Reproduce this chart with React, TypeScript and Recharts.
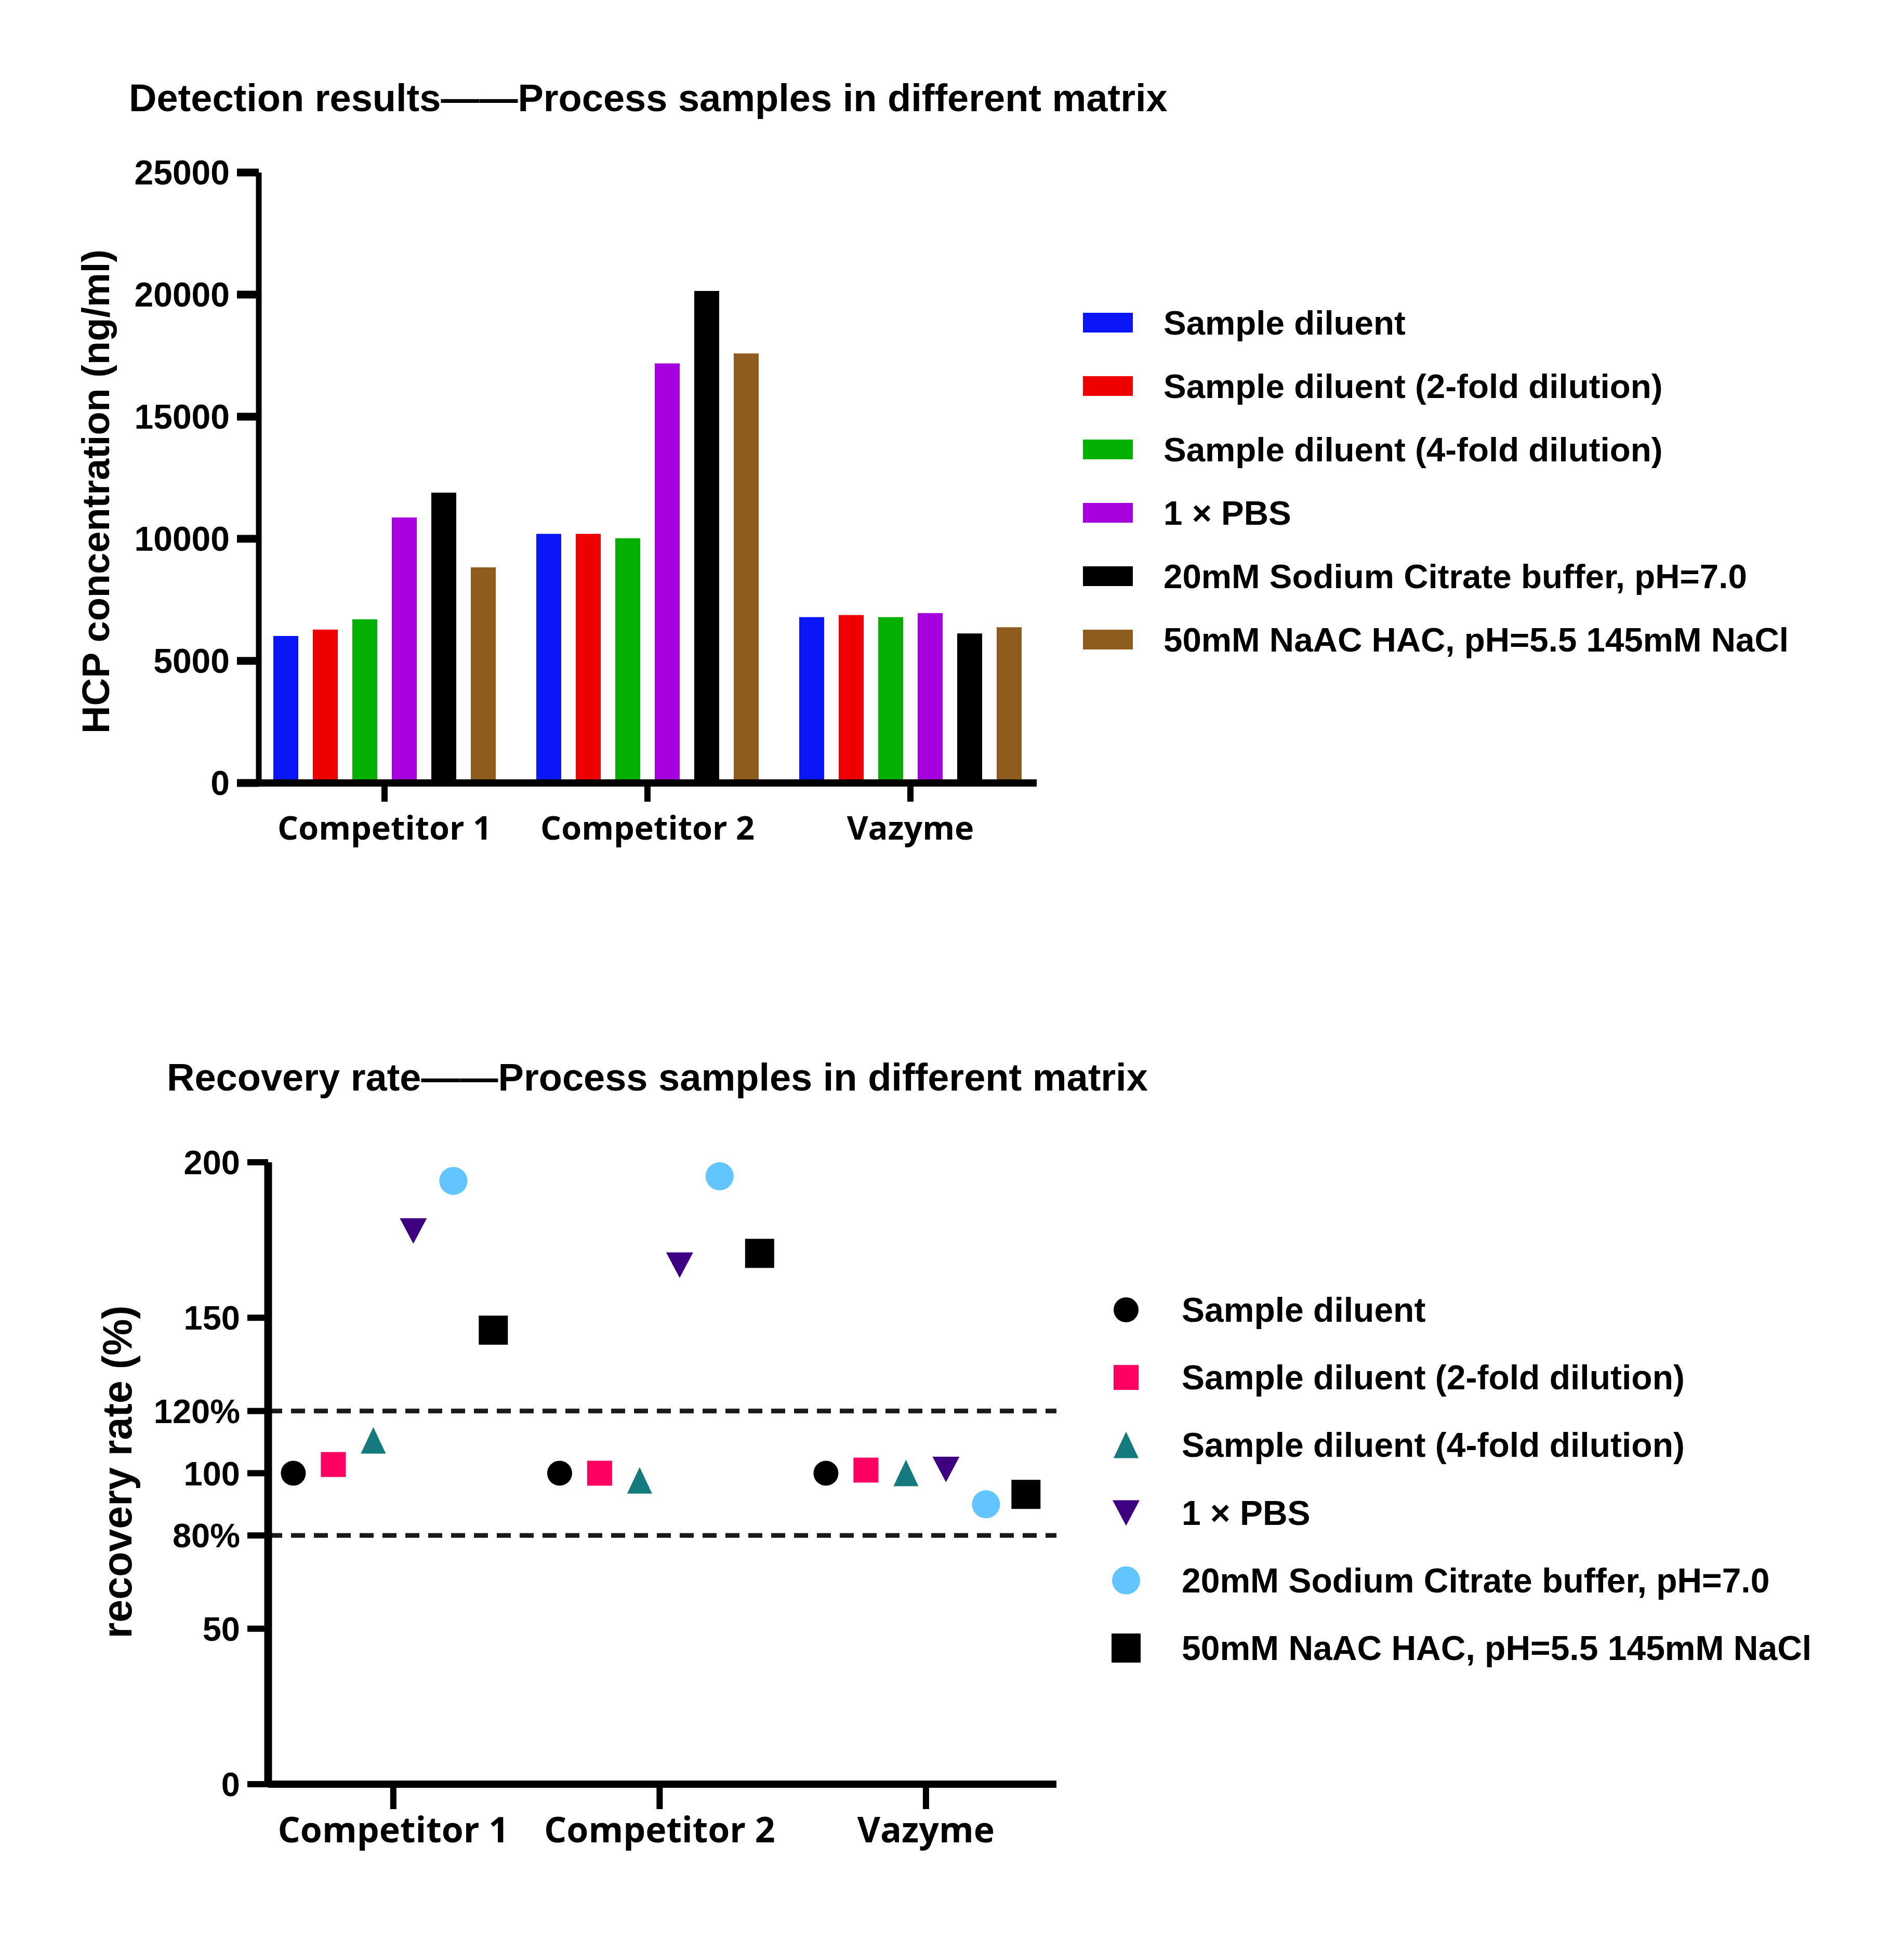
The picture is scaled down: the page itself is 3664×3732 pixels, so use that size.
import React from 'react';
import { BarChart, Bar, XAxis, YAxis, ScatterChart, Scatter, ReferenceLine } from 'recharts';

// ---------- data ----------
const categories = ['Competitor 1', 'Competitor 2', 'Vazyme'];
const seriesNames = [
  'Sample diluent',
  'Sample diluent (2-fold dilution)',
  'Sample diluent (4-fold dilution)',
  '1 × PBS',
  '20mM Sodium Citrate buffer, pH=7.0',
  '50mM NaAC HAC, pH=5.5 145mM NaCl',
];

// HCP concentration (ng/ml)
const hcpSampleDiluent = [6020, 10200, 6790];
const hcpTwoFold = [6280, 10200, 6880];
const hcpFourFold = [6700, 10020, 6790];
const hcpPbs = [10870, 17180, 6960];
const hcpCitrate = [11890, 20150, 6120];
const hcpNaac = [8830, 17590, 6380];
const hcpTicks = [0, 5000, 10000, 15000, 20000, 25000];

// recovery rate (%)
const recSampleDiluent = [100, 100, 100];
const recTwoFold = [102.8, 100, 101];
const recFourFold = [110.5, 97.6, 100];
const recPbs = [178, 167, 101.3];
const recCitrate = [194, 195.5, 90];
const recNaac = [146, 170.7, 93.2];
const recTicks = [0, 50, 80, 100, 120, 150, 200];
const recLimits = [80, 120];

const topTitle = 'Detection results——Process samples in different matrix';
const bottomTitle = 'Recovery rate——Process samples in different matrix';
const topYLabel = 'HCP concentration (ng/ml)';
const bottomYLabel = 'recovery rate (%)';

// ---------- styles ----------
const ARIAL = '"Liberation Sans", Arial, Helvetica, sans-serif';
const CAT_FONT = '"Open Sans", "Noto Sans", sans-serif';
const barColors = ['#0b16f6', '#ee0000', '#04b004', '#a700df', '#000000', '#8e5c1c'];
const markerColors = ['#000000', '#ff0062', '#147a7e', '#3d0080', '#62c5ff', '#000000'];
const markerKinds = ['circle', 'square', 'up', 'down', 'bigcircle', 'bigsquare'];

const hcpSeries = [hcpSampleDiluent, hcpTwoFold, hcpFourFold, hcpPbs, hcpCitrate, hcpNaac];
const recSeries = [recSampleDiluent, recTwoFold, recFourFold, recPbs, recCitrate, recNaac];

const barData = categories.map((c, i) => {
  const row: any = { category: c };
  hcpSeries.forEach((s, k) => {
    row['s' + k] = s[i];
  });
  return row;
});

const DODGE = 0.1502;
const scatterData = recSeries.map((s, k) =>
  s.map((v, i) => ({ x: i + (k - 2.5) * DODGE, y: v }))
);

function Marker({ kind, cx, cy, color }: { kind: string; cx: number; cy: number; color: string }) {
  switch (kind) {
    case 'circle':
      return <circle cx={cx} cy={cy} r={24} fill={color} />;
    case 'bigcircle':
      return <circle cx={cx} cy={cy} r={27} fill={color} />;
    case 'square':
      return <rect x={cx - 24} y={cy - 24} width={48} height={48} fill={color} />;
    case 'bigsquare':
      return <rect x={cx - 28} y={cy - 28} width={56} height={56} fill={color} />;
    case 'up':
      return <polygon points={`${cx - 24},${cy + 25} ${cx + 24},${cy + 25} ${cx},${cy - 26}`} fill={color} />;
    case 'down':
      return <polygon points={`${cx - 26},${cy - 24} ${cx + 26},${cy - 24} ${cx},${cy + 25}`} fill={color} />;
    default:
      return null;
  }
}

const yTickFmt = (v: number) => (v === 80 || v === 120 ? `${v}%` : `${v}`);

export default function App() {
  return (
    <div style={{ position: 'absolute', left: 0, top: 0, width: 3664, height: 3732, background: '#fff', overflow: 'hidden' }}>
      {/* Top bar chart */}
      <div style={{ position: 'absolute', left: 0, top: 0 }}>
        <BarChart
          width={2100}
          height={1700}
          data={barData}
          margin={{ top: 332, left: 198, right: 105, bottom: 43 }}
          barSize={48}
          barGap={28}
        >
          {hcpSeries.map((_, k) => (
            <Bar key={k} dataKey={'s' + k} name={seriesNames[k]} fill={barColors[k]} isAnimationActive={false} />
          ))}
          <XAxis
            dataKey="category"
            type="category"
            height={150}
            padding={{ left: -11, right: -10 }}
            axisLine={{ stroke: '#000', strokeWidth: 14 }}
            tickLine={{ stroke: '#000', strokeWidth: 12 }}
            tickSize={36}
            tickMargin={28}
            tick={{ fill: '#000', fontSize: 63, fontFamily: CAT_FONT, fontWeight: 700 }}
          />
          <YAxis
            type="number"
            width={300}
            domain={[0, 25000]}
            ticks={hcpTicks}
            interval={0}
            axisLine={{ stroke: '#000', strokeWidth: 11 }}
            tickLine={{ stroke: '#000', strokeWidth: 15 }}
            tickSize={42}
            tickMargin={14}
            tick={{ fill: '#000', fontSize: 66, fontFamily: ARIAL, fontWeight: 700 }}
          />
        </BarChart>
      </div>

      {/* Bottom scatter chart */}
      <div style={{ position: 'absolute', left: 0, top: 1800 }}>
        <ScatterChart width={2100} height={1900} margin={{ top: 437, left: 216, right: 67, bottom: 66 }}>
          <ReferenceLine y={recLimits[1]} stroke="#1a1a1a" strokeWidth={9} strokeDasharray="27 17" />
          <ReferenceLine y={recLimits[0]} stroke="#1a1a1a" strokeWidth={9} strokeDasharray="27 17" />
          {scatterData.map((d, k) => (
            <Scatter
              key={k}
              name={seriesNames[k]}
              data={d}
              fill={markerColors[k]}
              isAnimationActive={false}
              shape={(p: any) => <Marker kind={markerKinds[k]} cx={p.cx} cy={p.cy} color={markerColors[k]} />}
            />
          ))}
          <XAxis
            type="number"
            dataKey="x"
            domain={[-0.47, 2.49]}
            ticks={[0, 1, 2]}
            interval={0}
            tickFormatter={(v: number) => categories[Math.round(v)]}
            height={200}
            axisLine={{ stroke: '#000', strokeWidth: 14 }}
            tickLine={{ stroke: '#000', strokeWidth: 12 }}
            tickSize={48}
            tickMargin={16}
            tick={{ fill: '#000', fontSize: 68, fontFamily: CAT_FONT, fontWeight: 700 }}
          />
          <YAxis
            type="number"
            dataKey="y"
            width={300}
            domain={[0, 200]}
            ticks={recTicks}
            interval={0}
            tickFormatter={yTickFmt}
            axisLine={{ stroke: '#000', strokeWidth: 15 }}
            tickLine={{ stroke: '#000', strokeWidth: 12 }}
            tickSize={40}
            tickMargin={14}
            tick={{ fill: '#000', fontSize: 65, fontFamily: ARIAL, fontWeight: 700 }}
          />
        </ScatterChart>
      </div>

      {/* Overlay: titles, axis titles, legends */}
      <svg width={3664} height={3732} style={{ position: 'absolute', left: 0, top: 0, pointerEvents: 'none' }}>
        <text x={248} y={214} fontFamily={ARIAL} fontWeight={700} fontSize={74} fill="#000">{topTitle}</text>
        <text x={321} y={2099} fontFamily={ARIAL} fontWeight={700} fontSize={74} fill="#000">{bottomTitle}</text>
        <text transform="translate(210,946) rotate(-90)" textAnchor="middle" fontFamily={ARIAL} fontWeight={700} fontSize={74} fill="#000">{topYLabel}</text>
        <text transform="translate(253,2833) rotate(-90)" textAnchor="middle" fontFamily={ARIAL} fontWeight={700} fontSize={79} fill="#000">{bottomYLabel}</text>

        {seriesNames.map((name, k) => {
          const cy = 621 + k * 122;
          return (
            <g key={'tl' + k}>
              <rect x={2084} y={cy - 19} width={96} height={38} fill={barColors[k]} />
              <text x={2239} y={cy + 23} fontFamily={ARIAL} fontWeight={700} fontSize={65.5} fill="#000">{name}</text>
            </g>
          );
        })}

        {seriesNames.map((name, k) => {
          const cy = 2521 + k * 130.2;
          return (
            <g key={'bl' + k}>
              <Marker kind={markerKinds[k]} cx={2167} cy={cy} color={markerColors[k]} />
              <text x={2274} y={cy + 23} fontFamily={ARIAL} fontWeight={700} fontSize={66} fill="#000">{name}</text>
            </g>
          );
        })}
      </svg>
    </div>
  );
}
